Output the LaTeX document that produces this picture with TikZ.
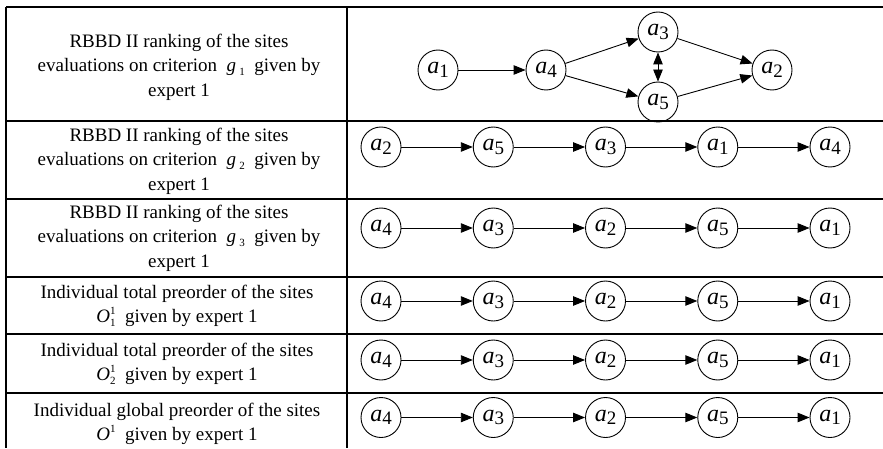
\documentclass[tikz,border=0pt]{standalone}
\usepackage{fontspec}
\setmainfont{Liberation Serif}
\usepackage{tikz}
\usetikzlibrary{arrows.meta}

% site a_i, criterion g_j and preorders O
\newcommand{\site}[1]{\textit{a}\raisebox{-0.3ex}{\fontsize{19}{19}\selectfont #1}}
\newcommand{\crit}[1]{\textit{g}\,\raisebox{-0.4ex}{\fontsize{11}{11}\selectfont #1}}
\newcommand{\pre}[1]{\textit{O}\rlap{\raisebox{0.95ex}{\fontsize{11}{11}\selectfont 1}}\raisebox{-0.45ex}{\fontsize{11}{11}\selectfont #1}}

\begin{document}
\begin{tikzpicture}[x=1pt,y=1pt,font=\fontsize{19}{24.5}\selectfont,
  >={Triangle[length=12pt,width=9.5pt]},
  site/.style={circle,draw,line width=0.9pt,minimum size=40pt,inner sep=0pt,
    font=\fontsize{24}{24}\selectfont},
  rank/.style={align=center},
  link/.style={->,line width=0.9pt}]
  \useasboundingbox (0,0) rectangle (883,448);

  % table rules
  \foreach \y in {441,327,249,171,114,55}
    \draw[line width=1.7pt] (6,\y) -- (883,\y);
  \draw[line width=1.2pt] (6,441) -- (6,0);
  \draw[line width=1.2pt] (347,441) -- (347,0);

  % left column
  \node[rank] (lab1) at (179,381) {RBBD II ranking of the sites\\
    evaluations on criterion~ \crit{1} ~given by\\ expert 1};
  \node[rank] (lab2) at (179,287) {RBBD II ranking of the sites\\
    evaluations on criterion~ \crit{2} ~given by\\ expert 1};
  \node[rank] (lab3) at (179,210) {RBBD II ranking of the sites\\
    evaluations on criterion~ \crit{3} ~given by\\ expert 1};
  \node[rank] (lab4) at (177,142) {Individual total preorder of the sites\\
    \pre{1} ~given by expert 1};
  \node[rank] (lab5) at (177,84) {Individual total preorder of the sites\\
    \pre{2} ~given by expert 1};
  \node[rank] (lab6) at (177,24) {Individual global preorder of the sites\\
    \textit{O}\raisebox{0.95ex}{\fontsize{11}{11}\selectfont 1} ~given by expert 1};

  % ranking on g1
  \node[site] (r1a1) at (438,378) {\site{1}};
  \node[site] (r1a4) at (546,378) {\site{4}};
  \node[site] (r1a3) at (658,416) {\site{3}};
  \node[site] (r1a5) at (658,346) {\site{5}};
  \node[site] (r1a2) at (772,378) {\site{2}};
  \draw[link] (r1a1) -- (r1a4);
  \draw[link] (r1a4) -- (r1a3);
  \draw[link] (r1a4) -- (r1a5);
  \draw[link] (r1a3) -- (r1a2);
  \draw[link] (r1a5) -- (r1a2);
  \draw[link,<->] (r1a3) -- (r1a5);

  % chains
  \foreach \r/\y/\seq in {2/301/{2,5,3,1,4},3/220/{4,3,2,5,1},
      4/147/{4,3,2,5,1},5/88/{4,3,2,5,1},6/30.5/{4,3,2,5,1}} {
    \foreach \s [count=\i] in \seq
      \node[site] (r\r n\i) at ({381+112.25*(\i-1)},\y) {\site{\s}};
    \foreach \i [count=\j from 2] in {1,...,4}
      \draw[link] (r\r n\i) -- (r\r n\j);
  }
\end{tikzpicture}
\end{document}
